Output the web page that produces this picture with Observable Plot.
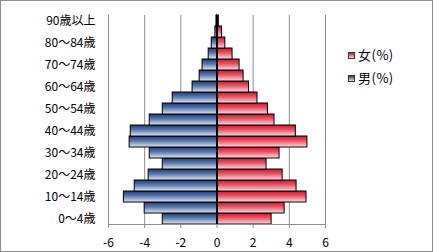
<!DOCTYPE html>
<html><head><meta charset="utf-8">
<script src="https://cdn.jsdelivr.net/npm/d3@7"></script>
<script src="https://cdn.jsdelivr.net/npm/@observablehq/plot@0.6"></script>
<style>
html,body{margin:0;padding:0;background:#fff;}
#wrap{position:relative;width:433px;height:252px;overflow:hidden;font-family:'Noto Sans CJK JP',sans-serif;}
#border{position:absolute;left:0;top:0;width:433px;height:252px;box-sizing:border-box;border:1px solid #8c8c8c;pointer-events:none;}
.leg{position:absolute;left:348px;font-size:13px;line-height:14px;color:#000;white-space:nowrap;letter-spacing:0.5px;}
.leg span.sw{display:inline-block;width:5px;height:5px;border:1px solid #333;margin-right:3px;vertical-align:middle;position:relative;top:-1px;}
</style>
</head><body>
<div id="wrap"><div id="border"></div></div>
<script>
const ages = ["0～4歳","5～9歳","10～14歳","15～19歳","20～24歳","25～29歳","30～34歳","35～39歳","40～44歳","45～49歳","50～54歳","55～59歳","60～64歳","65～69歳","70～74歳","75～79歳","80～84歳","85～89歳","90歳以上"];
const shownAges = ["0～4歳","10～14歳","20～24歳","30～34歳","40～44歳","50～54歳","60～64歳","70～74歳","80～84歳","90歳以上"];
const male = [3.0,4.0,5.15,4.55,3.78,3.0,3.72,4.83,4.77,3.72,3.0,2.45,1.35,0.96,0.8,0.46,0.29,0.09,0.03];
const female = [3.02,3.74,4.95,4.4,3.63,2.74,3.46,5.0,4.36,3.18,2.82,2.24,1.77,1.47,1.25,0.86,0.46,0.28,0.1];
const xTicks = [-6,-4,-2,0,2,4,6];
const gridTicks = [-6,-4,-2,2,4,6];
const seriesNames = ["女(%)","男(%)"];

const rows = [];
ages.forEach((a,i)=>{
  rows.push({age:a, sex:"男", v:-male[i]});
  rows.push({age:a, sex:"女", v:female[i]});
});

const chart = Plot.plot({
  width:433, height:252,
  marginLeft:108, marginRight:108, marginTop:15, marginBottom:28,
  style:{fontFamily:"'Noto Sans CJK JP',sans-serif", fontSize:"12px", color:"#000", background:"transparent"},
  x:{domain:[-6,6]},
  y:{domain:ages.slice().reverse(), padding:0},
  marks:[
    Plot.ruleX(gridTicks,{stroke:"#8c8c8c", strokeWidth:1}),
    Plot.barX(rows,{y:"age", x1:0, x2:"v", fill:d=>d.sex==="男"?"url(#gM)":"url(#gF)", stroke:"#000", strokeWidth:1, inset:0}),
    Plot.ruleX([0],{stroke:"#000", strokeWidth:2}),
    Plot.frame({anchor:"bottom", stroke:"#8c8c8c"}),
    Plot.axisX({ticks:xTicks, tickSize:4, tickPadding:10, stroke:"#8c8c8c", tickFormat:d=>d<0?"-"+Math.abs(d):String(d), fill:"#000", label:null}),
    Plot.axisY({ticks:shownAges, tickSize:0, tickPadding:13, label:null, fill:"#000"})
  ]
});
chart.insertAdjacentHTML("afterbegin",
 `<defs>
  <linearGradient id="gM" x1="0" y1="0" x2="0" y2="1">
   <stop offset="0" stop-color="#1c3a78"/><stop offset="0.45" stop-color="#5c78aa"/><stop offset="1" stop-color="#e2e8f4"/>
  </linearGradient>
  <linearGradient id="gF" x1="0" y1="0" x2="0" y2="1">
   <stop offset="0" stop-color="#d8102a"/><stop offset="0.45" stop-color="#e45a6a"/><stop offset="1" stop-color="#f8e0e4"/>
  </linearGradient>
 </defs>`);
chart.style.position="absolute"; chart.style.left="0"; chart.style.top="0";
const wrap = document.getElementById("wrap");
wrap.insertBefore(chart, wrap.firstChild);
[["linear-gradient(#d8102a,#f8e0e4)",48],["linear-gradient(#1c3a78,#e2e8f4)",71]].forEach(([bg,top],i)=>{
  const d=document.createElement("div"); d.className="leg"; d.style.top=top+"px";
  d.innerHTML=`<span class="sw" style="background:${bg}"></span>${seriesNames[i]}`;
  wrap.appendChild(d);
});
</script>
</body></html>
